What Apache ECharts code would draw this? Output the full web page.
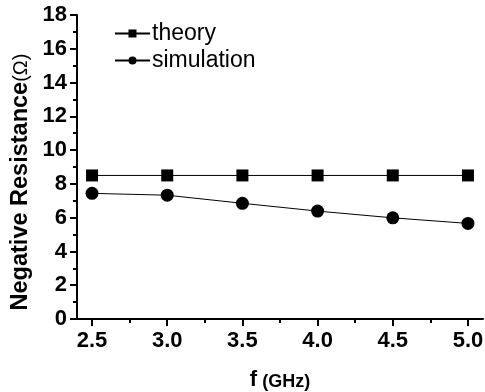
<!DOCTYPE html>
<html><head><meta charset="utf-8">
<script src="https://cdn.jsdelivr.net/npm/echarts@6/dist/echarts.min.js"></script>
<style>html,body{margin:0;padding:0;background:#fff}#c{width:485px;height:392px}</style>
</head><body><div id="c"></div>
<script>
const freq = [2.5, 3.0, 3.5, 4.0, 4.5, 5.0];
const theory = [8.5, 8.5, 8.5, 8.5, 8.5, 8.5];
const simulation = [7.44, 7.33, 6.85, 6.39, 5.99, 5.66];
const xTicks = [2.5, 3.0, 3.5, 4.0, 4.5, 5.0];
const xMinorTicks = [2.75, 3.25, 3.75, 4.25, 4.75];

const chart = echarts.init(document.getElementById('c'));
const font = 'Liberation Sans, Arial, sans-serif';
chart.setOption({
  animation: false,
  grid: {left: 77, top: 15, right: 2, bottom: 73, outerBoundsMode: 'none', containLabel: false},
  legend: {
    orient: 'vertical', left: 109, top: 17, itemGap: 4, itemWidth: 35, itemHeight: 10,
    textStyle: {fontFamily: font, fontSize: 23, color: '#000', padding: [0,0,0,-3]},
    data: ['theory', 'simulation']
  },
  graphic: [{
    type: 'text', x: 9, y: 182, rotation: Math.PI / 2,
    style: {
      text: '{a|Negative Resistance}{b|(Ω)}', align: 'center', verticalAlign: 'top',
      rich: {a: {fontFamily: font, fontWeight: 'bold', fontSize: 23.5, fill: '#000'},
             b: {fontFamily: font, fontSize: 20, fill: '#000'}}
    }
  }],
  xAxis: [{
    type: 'value', min: 2.4, max: 5.1,
    axisLine: {lineStyle: {color: '#000', width: 2}},
    axisTick: {customValues: xTicks, length: 7, lineStyle: {color: '#000', width: 2}},
    axisLabel: {customValues: xTicks, formatter: v => v.toFixed(1), fontFamily: font, fontWeight: 'bold', fontSize: 22, color: '#000', margin: 11},
    splitLine: {show: false},
    name: '{a|f}{b| (GHz)}', nameLocation: 'middle', nameGap: 50,
    nameTextStyle: {rich: {a: {fontFamily: font, fontWeight: 'bold', fontSize: 22, color: '#000'}, b: {fontFamily: font, fontWeight: 'bold', fontSize: 18, color: '#000', padding: [4,0,0,0]}}}
  }, {
    type: 'value', min: 2.4, max: 5.1, position: 'bottom',
    axisLine: {show: false},
    axisTick: {customValues: xMinorTicks, length: 4, lineStyle: {color: '#000', width: 2}},
    axisLabel: {show: false}, splitLine: {show: false}
  }],
  yAxis: {
    type: 'value', min: 0, max: 18, interval: 2,
    axisLine: {show: true, lineStyle: {color: '#000', width: 2}},
    axisTick: {show: true, length: 7, lineStyle: {color: '#000', width: 2}},
    minorTick: {show: true, splitNumber: 2, length: 4, lineStyle: {color: '#000', width: 2}},
    axisLabel: {fontFamily: font, fontWeight: 'bold', fontSize: 22, color: '#000', margin: 10},
    splitLine: {show: false}
  },
  series: [{
    name: 'theory', type: 'line', data: freq.map((f, i) => [f, theory[i]]),
    symbol: 'rect', symbolSize: 12, lineStyle: {color: '#000', width: 1}, itemStyle: {color: '#000'}
  }, {
    name: 'simulation', type: 'line', data: freq.map((f, i) => [f, simulation[i]]),
    symbol: 'circle', symbolSize: 13, lineStyle: {color: '#000', width: 1}, itemStyle: {color: '#000'}
  }]
});
</script></body></html>
